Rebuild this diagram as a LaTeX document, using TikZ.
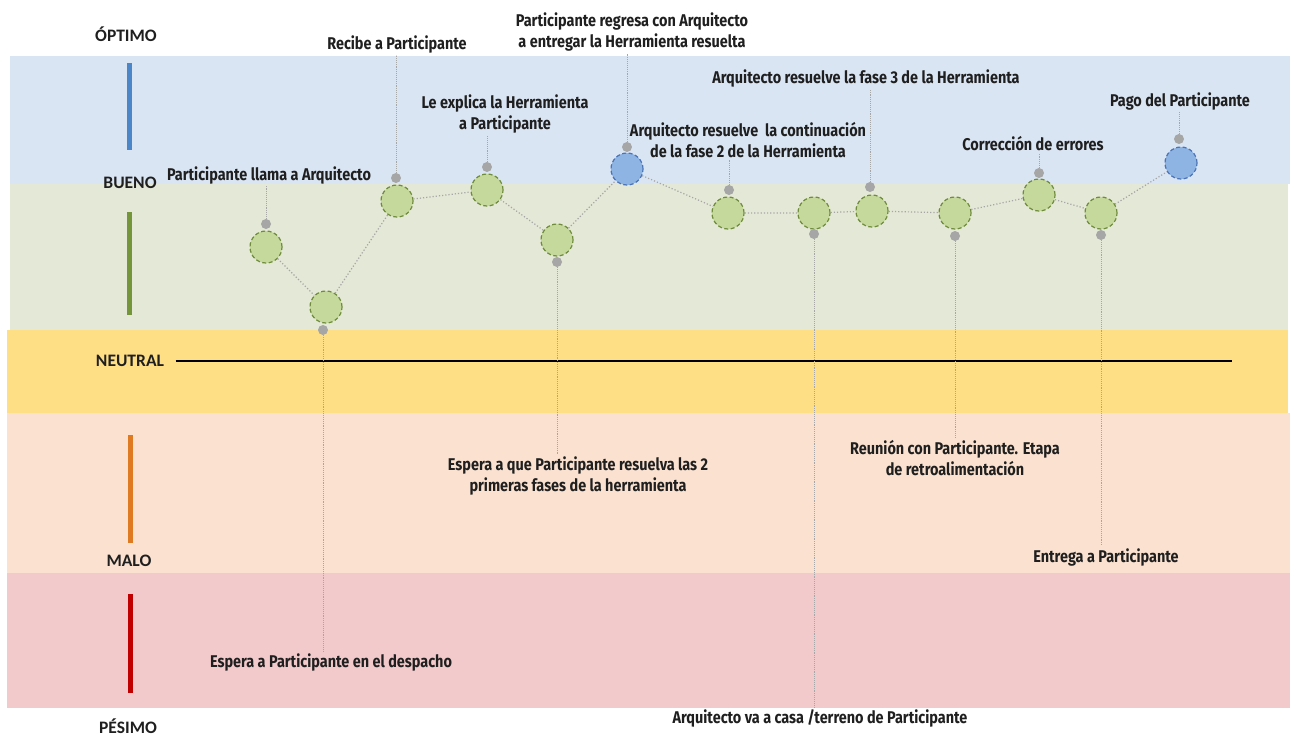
\documentclass[tikz,border=0pt]{standalone}
\usepackage{fontspec}
\setmainfont{Carlito}
\newfontfamily\etiqfont[FakeStretch=0.85]{Fira Sans}
\definecolor{bandeoptimo}{HTML}{DAE5F4}
\definecolor{bandebueno}{HTML}{E4E8D6}
\definecolor{bandeneutre}{HTML}{FFDF86}
\definecolor{bandemalo}{HTML}{FBE2D0}
\definecolor{bandepesimo}{HTML}{F2CACB}
\definecolor{barreoptimo}{HTML}{4A86C8}
\definecolor{barrebueno}{HTML}{74953A}
\definecolor{barremalo}{HTML}{E07A22}
\definecolor{barrepesimo}{HTML}{C00000}
\definecolor{vertclair}{HTML}{C5D99C}
\definecolor{vertfonce}{HTML}{6F8C3C}
\definecolor{bleuclair}{HTML}{8EB4E3}
\definecolor{bleufonce}{HTML}{4A74B5}
\definecolor{grispoint}{HTML}{A6A6A6}
\tikzset{
  etape/.style={circle,minimum size=32pt,inner sep=0pt,fill=vertclair,draw=vertfonce,line width=1.2pt,dash pattern=on 4pt off 2.5pt},
  etapebleue/.style={etape,fill=bleuclair,draw=bleufonce},
  repere/.style={circle,minimum size=10pt,inner sep=0pt,fill=grispoint},
  texte/.style={font=\etiqfont\bfseries\fontsize{17}{21}\selectfont,align=center,inner sep=2pt,text=black!88},
  niveau/.style={font=\bfseries\fontsize{17.5}{19}\selectfont,text=black!88},
  fil/.style={draw=grispoint,densely dotted,line width=0.9pt},
  lien/.style={draw=grispoint,dotted,line width=1.2pt}
}
\begin{document}
\begin{tikzpicture}[x=1pt,y=-1pt]
\useasboundingbox[fill=white] (0,0) rectangle (1290,736);
% bandes
\fill[bandeoptimo] (10,56) rectangle (1290,184);
\fill[bandebueno] (10,184) rectangle (1288,330);
\fill[bandeneutre] (7,330) rectangle (1288,413);
\fill[bandemalo] (7,413) rectangle (1290,573);
\fill[bandepesimo] (7,573) rectangle (1290,708);
% barres
\draw[line width=5pt,barreoptimo] (129,63) -- (129,150);
\draw[line width=5pt,barrebueno] (129,212) -- (129,315);
\draw[line width=5pt,barremalo] (130,435) -- (130,543);
\draw[line width=5pt,barrepesimo] (130,594) -- (130,693);
% niveaux
\node[niveau] (optimo) at (126,34) {ÓPTIMO};
\node[niveau] (bueno) at (130,183) {BUENO};
\node[niveau] (neutre) at (130,361) {NEUTRAL};
\node[niveau] (malo) at (129,561) {MALO};
\node[niveau] (pesimo) at (128,726) {PÉSIMO};
\coordinate (finneutre) at (1232,361);
\draw[line width=1.2pt,shorten <=8pt] (neutre.east) -- (finneutre);
% etapes
\node[etape] (e1) at (266,247) {};
\node[etape] (e2) at (326,307) {};
\node[etape] (e3) at (397,201) {};
\node[etape] (e4) at (487,190) {};
\node[etape] (e5) at (557,240) {};
\node[etapebleue] (e6) at (627,169) {};
\node[etape] (e7) at (728,213) {};
\node[etape] (e8) at (814,213) {};
\node[etape] (e9) at (872,211) {};
\node[etape] (e10) at (955,213) {};
\node[etape] (e11) at (1039,195) {};
\node[etape] (e12) at (1101,213) {};
\node[etapebleue] (e13) at (1181,163) {};
\draw[lien] (e1) -- (e2) -- (e3) -- (e4) -- (e5) -- (e6) -- (e7) -- (e8) -- (e9) -- (e10) -- (e11) -- (e12) -- (e13);
% reperes
\node[repere] (p1) at (266,224) {};
\node[repere] (p2) at (323,330) {};
\node[repere] (p3) at (396,178) {};
\node[repere] (p4) at (487,167) {};
\node[repere] (p5) at (557,262) {};
\node[repere] (p6) at (627,147) {};
\node[repere] (p7) at (729,190) {};
\node[repere] (p8) at (814,234) {};
\node[repere] (p9) at (870,187) {};
\node[repere] (p10) at (955,236) {};
\node[repere] (p11) at (1039,173) {};
\node[repere] (p12) at (1101,235) {};
\node[repere] (p13) at (1179,139) {};
% textes
\node[texte] (t1) at (269,175) {Participante llama a Arquitecto};
\node[texte] (t2) at (331,662) {Espera a Participante en el despacho};
\node[texte] (t3) at (397,44) {Recibe a Participante};
\node[texte] (t4) at (505,114) {Le explica la Herramienta\\a Participante};
\node[texte] (t5) at (578,476) {Espera a que Participante resuelva las 2\\primeras fases de la herramienta};
\node[texte] (t6) at (632,32) {Participante regresa con Arquitecto\\a entregar la Herramienta resuelta};
\node[texte] (t7) at (748,140) {Arquitecto resuelve~~la continuación\\de la fase 2 de la Herramienta};
\node[texte] (t8) at (820,718) {Arquitecto va a casa /terreno de Participante};
\node[texte] (t9) at (866,78) {Arquitecto resuelve la fase 3 de la Herramienta};
\node[texte] (t10) at (955,458) {Reunión con Participante. Etapa\\de retroalimentación};
\node[texte] (t11) at (1033,144) {Corrección de errores};
\node[texte] (t12) at (1106,557) {Entrega a Participante};
\node[texte] (t13) at (1180,101) {Pago del Participante};
% fils
\draw[fil] (p1) -- (p1 |- t1.south);
\draw[fil] (p2) -- (p2 |- t2.north);
\draw[fil] (p3) -- (p3 |- t3.south);
\draw[fil] (p4) -- (p4 |- t4.south);
\draw[fil] (p5) -- (p5 |- t5.north);
\draw[fil] (p6) -- (p6 |- t6.south);
\draw[fil] (p7) -- (p7 |- t7.south);
\draw[fil] (p8) -- (p8 |- t8.north);
\draw[fil] (p9) -- (p9 |- t9.south);
\draw[fil] (p10) -- (p10 |- t10.north);
\draw[fil] (p11) -- (p11 |- t11.south);
\draw[fil] (p12) -- (p12 |- t12.north);
\draw[fil] (p13) -- (p13 |- t13.south);
\end{tikzpicture}
\end{document}
